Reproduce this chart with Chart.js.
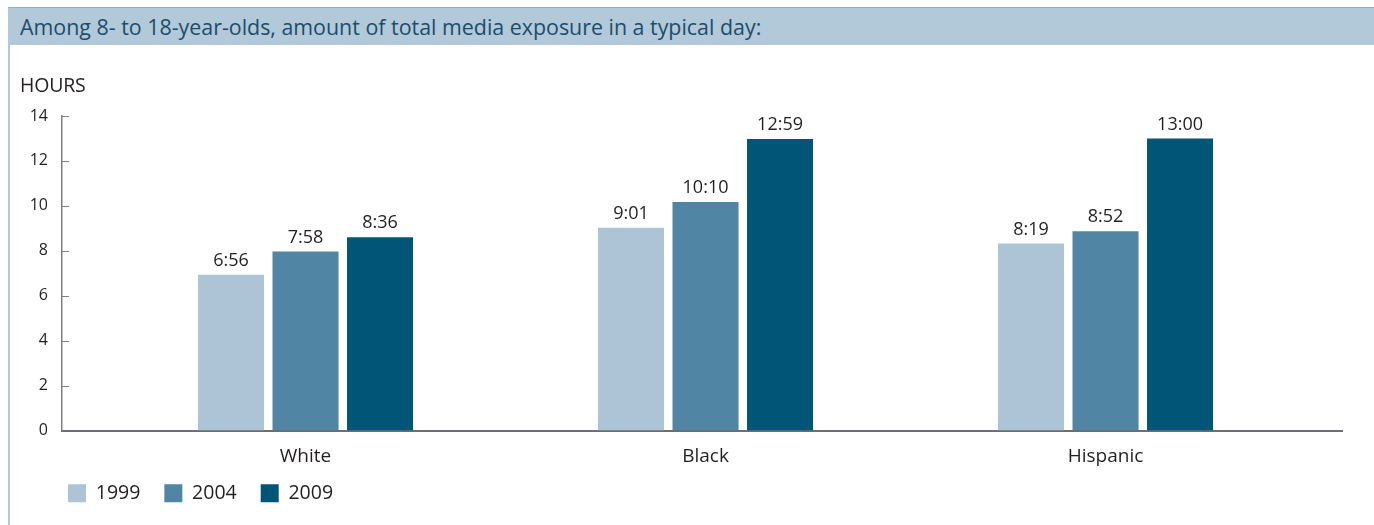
<!DOCTYPE html>
<html>
<head>
<meta charset="utf-8">
<script src="https://cdn.jsdelivr.net/npm/chart.js@4"></script>
<style>
    html, body { margin: 0; padding: 0; background: #fff; }
    body { width: 1374px; height: 525px; position: relative; overflow: hidden; font-family: "Open Sans", sans-serif; }
    #frame { position: absolute; left: 8px; top: 7px; width: 1366px; height: 518px; border-left: 2px solid #b2c9d9; box-sizing: border-box; }
    #header { position: absolute; left: 8px; top: 7px; width: 1366px; height: 38px; background: #b2c9d9; border-top: 1px solid #8eaec5; box-sizing: border-box; }
    #header span { position: absolute; left: 12px; top: 4px; font-size: 21.4px; color: #1c4d6c; white-space: nowrap; }
    #hours { position: absolute; left: 20px; top: 71px; font-size: 19.5px; color: #231f20; letter-spacing: -0.2px; }
    #wrap { position: absolute; left: 0; top: 0; width: 1374px; height: 525px; }
</style>
</head>
<body>
<div id="frame"></div>
<div id="header"><span>Among 8- to 18-year-olds, amount of total media exposure in a typical day:</span></div>
<div id="wrap"><canvas id="mediaChart" width="1374" height="525"></canvas></div>
<div id="hours">HOURS</div>
<script>
// 数据
const categories = ['White', 'Black', 'Hispanic'];
const years = ['1999', '2004', '2009'];
const hours1999 = [6.93, 9.02, 8.32];
const hours2004 = [7.97, 10.17, 8.87];
const hours2009 = [8.60, 12.98, 13.00];
const labels1999 = ['6:56', '9:01', '8:19'];
const labels2004 = ['7:58', '10:10', '8:52'];
const labels2009 = ['8:36', '12:59', '13:00'];
const yTicks = [0, 2, 4, 6, 8, 10, 12, 14];
const colors = ['#adc4d7', '#5185a4', '#015577'];

const seriesValues = [hours1999, hours2004, hours2009];
const seriesLabels = [labels1999, labels2004, labels2009];

// 柱顶标签 + 内侧刻度
const barLabelPlugin = {
    id: 'barLabels',
    afterLayout(chart) {
        // 图例位置微调, 与参考图对齐
        chart.legend.left += 24;
        chart.legend.right += 24;
        chart.legend.top -= 9;
        chart.legend.bottom -= 9;
    },
    afterDatasetsDraw(chart) {
        const ctx = chart.ctx;
        ctx.save();
        ctx.font = '18px "Open Sans"';
        ctx.fillStyle = '#231f20';
        ctx.textAlign = 'center';
        ctx.textBaseline = 'bottom';
        chart.data.datasets.forEach((ds, i) => {
            chart.getDatasetMeta(i).data.forEach((bar, j) => {
                ctx.fillText(seriesLabels[i][j], bar.x, bar.y - 5);
            });
        });
        // y轴内侧刻度
        const y = chart.scales.y;
        const left = chart.chartArea.left;
        ctx.strokeStyle = '#808285';
        ctx.lineWidth = 1;
        yTicks.forEach(t => {
            if (t === 0) return;
            const py = Math.round(y.getPixelForValue(t)) + 0.5;
            ctx.beginPath();
            ctx.moveTo(left, py);
            ctx.lineTo(left + 7, py);
            ctx.stroke();
        });
        ctx.restore();
    }
};

const ctx = document.getElementById('mediaChart').getContext('2d');
const mediaChart = new Chart(ctx, {
    type: 'bar',
    data: {
        datasets: years.map((yr, i) => ({
            label: yr,
            data: seriesValues[i].map((v, j) => ({ x: j, y: v })),
            backgroundColor: colors[i],
            borderWidth: 0,
            categoryPercentage: 0.559,
            barPercentage: 0.886
        }))
    },
    options: {
        responsive: false,
        animation: false,
        devicePixelRatio: 1,
        layout: {
            padding: { left: 20, right: 32, top: 116, bottom: 3 }
        },
        plugins: {
            legend: {
                position: 'bottom',
                align: 'start',
                labels: {
                    boxWidth: 18,
                    boxHeight: 18,
                    padding: 24,
                    color: '#231f20',
                    font: { family: 'Open Sans', size: 19.5 }
                }
            },
            tooltip: { enabled: false }
        },
        scales: {
            x: {
                type: 'linear',
                offset: false,
                min: -0.6088,
                max: 2.5912,
                grid: { display: false, drawTicks: false, offset: false },
                border: { display: true, color: '#6d6e71', width: 2 },
                afterBuildTicks: function(axis) {
                    axis.ticks = categories.map((c, i) => ({ value: i }));
                },
                afterFit: function(axis) { axis.height = 38; },
                ticks: {
                    padding: 15,
                    color: '#231f20',
                    font: { family: 'Open Sans', size: 19 },
                    callback: function(v) { return categories[v]; }
                }
            },
            y: {
                min: 0,
                max: 14,
                grid: { display: false, drawTicks: false },
                border: { display: true, color: '#808285', width: 1.5 },
                afterBuildTicks: function(axis) {
                    axis.ticks = yTicks.map(v => ({ value: v }));
                },
                afterFit: function(axis) { axis.width = 42; },
                ticks: {
                    padding: 14,
                    color: '#231f20',
                    font: { family: 'Open Sans', size: 16 }
                }
            }
        }
    },
    plugins: [barLabelPlugin]
});
</script>
</body>
</html>
